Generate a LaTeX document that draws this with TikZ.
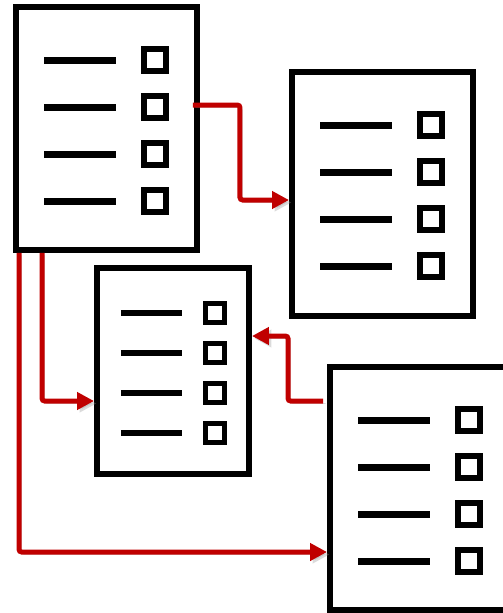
\documentclass[tikz,border=0pt]{standalone}
\usetikzlibrary{arrows.meta,calc}
\definecolor{linkred}{RGB}{192,0,0}
\tikzset{
  form/.style={draw, fill=white, line width=0.12cm, inner sep=0pt},
  bar/.style={line width=0.14cm},
  tick/.style={line width=0.12cm},
  link/.style={draw=linkred, line width=0.1cm, rounded corners=1.5pt,
    -{Triangle[length=0.34cm,width=0.34cm]},
    preaction={draw=black!40, opacity=0.35, transform canvas={shift={(0.05cm,-0.05cm)}}}},
}
\begin{document}
\begin{tikzpicture}[x=0.02cm, y=-0.02cm]
\path[use as bounding box, clip] (0,0) rectangle (503,613);
% the four forms
\node (f1)[form, minimum width=3.62cm, minimum height=4.86cm] at (106.5,128.5) {};
\node (f2)[form, minimum width=3.62cm, minimum height=4.88cm] at (382.5,194) {};
\node (f3)[form, minimum width=3.04cm, minimum height=4.12cm] at (173,371) {};
\node (f4)[form, minimum width=3.6cm, minimum height=4.86cm] at (420,488.5) {};

% rows: a bar and a check box
\foreach \x/\y/\s in {16/7/1, 292/72/1, 330/367/1, 97/268/0.85}
  \foreach \i in {0,...,3} {
    \draw[bar, line width=\s*0.14cm] (\x+28*\s, \y+53*\s+47*\s*\i) -- ++(72*\s,0);
    \draw[tick, line width=\s*0.12cm] (\x+128*\s, \y+42*\s+47*\s*\i) rectangle ++(22*\s,22*\s);
  }

% where the links start
\coordinate (a1) at ($(f1.east)+(-7,-23.5)$);
\coordinate (a2) at ($(f1.south west)+(29,0)$);
\coordinate (a3) at ($(f1.south west)+(6,0)$);
\coordinate (a4) at ($(f4.west)+(-4,-87.5)$);

\draw[link] (a1) -- ++(47,0) |- ($(f2.west)+(0,6)$);
\draw[link] (a2) |- ($(f3.west)+(0,30)$);
\draw[link] (a3) |- ($(f4.west)+(0,63.5)$);
\draw[link] (a4) -- ++(-35,0) |- ($(f3.east)+(0,-35)$);
\end{tikzpicture}
\end{document}
